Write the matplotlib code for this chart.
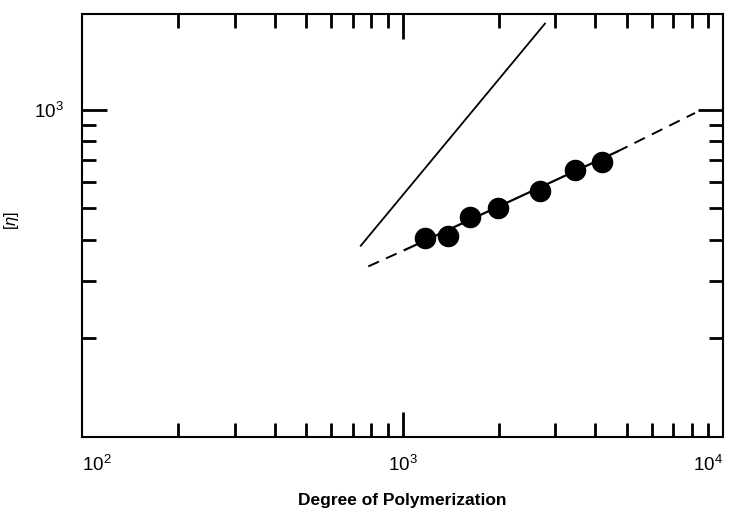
import numpy as np
import matplotlib
matplotlib.use("Agg")
import matplotlib.pyplot as plt
from matplotlib.ticker import FixedLocator, NullFormatter

plt.rcParams["font.family"] = ["Liberation Sans", "DejaVu Sans"]
plt.rcParams["mathtext.fontset"] = "custom"
plt.rcParams["mathtext.rm"] = "Liberation Sans"
plt.rcParams["mathtext.it"] = "Liberation Sans:italic"

# data
dp = [1175, 1390, 1624, 1991, 2685, 3453, 4183]
eta = [405, 410, 469, 500, 563, 655, 690]

# fitted line through the points (solid part) and where its dashed extension ends
fit_x = [1018, 4670]
fit_y = [373, 744]
ext_x = [782, 8177]
ext_y = [332, 977]

# steep reference line
ref_x = [741, 2783]
ref_y = [384, 1832]

x_major = [100, 1000, 10000]
x_labels = [r"$\mathregular{10^2}$", r"$\mathregular{10^3}$", r"$\mathregular{10^4}$"]
x_minor = [200, 300, 400, 500, 600, 700, 800, 900,
           2000, 3000, 4000, 5000, 6000, 7000, 8000, 9000]
y_major = [1000]
y_labels = [r"$\mathregular{10^3}$"]
y_minor = [200, 300, 400, 500, 600, 700, 800, 900]

fig = plt.figure(figsize=(7.32, 5.12), dpi=100)
ax = fig.add_axes([82 / 732, 1 - 437 / 512, 641 / 732, 423 / 512])
ax.set_xscale("log")
ax.set_yscale("log")
ax.set_xlim(100, 10000)
ax.set_ylim(100, 1960)

dash = (0, (6, 4))
ax.plot([ext_x[0], fit_x[0]], [ext_y[0], fit_y[0]], color="black", lw=1.4, ls=dash)
ax.plot([fit_x[1], ext_x[1]], [fit_y[1], ext_y[1]], color="black", lw=1.4, ls=dash)
ax.plot(fit_x, fit_y, color="black", lw=1.6)
ax.plot(ref_x, ref_y, color="black", lw=1.3)
ax.plot(dp, eta, "o", color="black", ms=14.5, zorder=5)

ax.xaxis.set_major_locator(FixedLocator(x_major))
ax.xaxis.set_minor_locator(FixedLocator(x_minor))
ax.xaxis.set_minor_formatter(NullFormatter())
ax.set_xticklabels(x_labels)
ax.yaxis.set_major_locator(FixedLocator(y_major))
ax.yaxis.set_minor_locator(FixedLocator(y_minor))
ax.yaxis.set_minor_formatter(NullFormatter())
ax.set_yticklabels(y_labels)

ax.tick_params(which="both", direction="in", top=True, right=True, width=2, labelsize=13.5)
ax.tick_params(which="major", length=18, pad=13)
ax.tick_params(which="minor", length=10)
for sp in ax.spines.values():
    sp.set_linewidth(1.5)

# the end decades sit on the frame, no tick marks there
for t in (ax.xaxis.get_major_ticks()[0], ax.xaxis.get_major_ticks()[-1]):
    t.tick1line.set_visible(False)
    t.tick2line.set_visible(False)

xl = ax.get_xticklabels()
xl[0].set_ha("left")
xl[-1].set_ha("right")

ax.set_xlabel("Degree of Polymerization", fontsize=12.5, fontweight="bold", labelpad=13)
ax.set_ylabel(r"$[\eta]$", fontsize=12)
ax.yaxis.set_label_coords(-0.095, 0.513)

fig.savefig("out.png", dpi=100)
